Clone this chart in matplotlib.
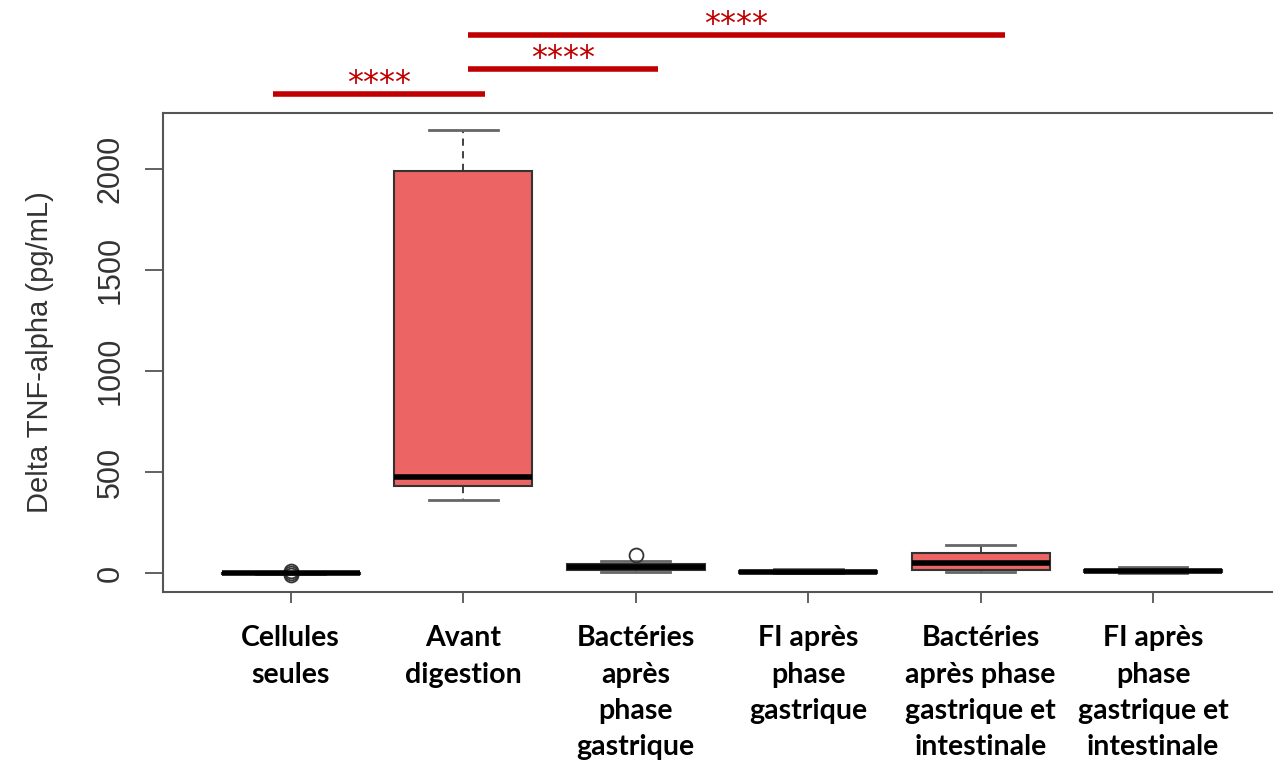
import matplotlib.pyplot as plt

labels = ['Cellules\nseules', 'Avant\ndigestion', 'Bactéries\naprès\nphase\ngastrique',
          'FI après\nphase\ngastrique', 'Bactéries\naprès phase\ngastrique et\nintestinale',
          'FI après\nphase\ngastrique et\nintestinale']
whislo = [-6, 361, 5, 0, 5, 0]
q1 = [-2, 430, 15, 3, 15, 5]
med = [0, 475, 30, 8, 50, 10]
q3 = [2, 1990, 45, 12, 100, 15]
whishi = [6, 2193, 60, 20, 140, 30]
fliers = [[10, -8, 3], [], [92], [], [], []]

# significance bars: (start, end, y)
sig_x0 = [0.9, 2.03, 2.03]
sig_x1 = [2.13, 3.13, 5.14]
sig_y = [2371, 2495, 2663]
sig_txt = ['****', '****', '****']

fig = plt.figure(figsize=(12.73, 7.67), dpi=100)
ax = fig.add_axes([0.128, 0.228, 0.878, 0.625])

stats = []
for i in range(len(labels)):
    stats.append(dict(whislo=whislo[i], q1=q1[i], med=med[i], q3=q3[i],
                      whishi=whishi[i], fliers=fliers[i]))

ax.bxp(stats, positions=range(1, 7), widths=0.8, patch_artist=True,
       boxprops=dict(facecolor='#EC6464', edgecolor='#333333', linewidth=1.5),
       medianprops=dict(color='black', linewidth=4, solid_capstyle='butt'),
       whiskerprops=dict(color='#333333', linewidth=1.3, linestyle=(0, (4, 3))),
       capprops=dict(color='#666666', linewidth=2),
       flierprops=dict(marker='o', markersize=10, markerfacecolor='none',
                       markeredgecolor='#333333', markeredgewidth=1.3),
       capwidths=0.4)

ax.set_xlim(0.26, 6.74)
ax.set_ylim(-94, 2277)
ax.set_yticks([0, 500, 1000, 1500, 2000])
ax.set_yticklabels(['0', '500', '1000', '1500', '2000'], rotation=90, va='center',
                   fontsize=22, color='#333333', family='Liberation Sans')
ax.set_xticks(range(1, 7))
ax.set_xticklabels(labels, fontsize=20.5, fontweight='bold', family='Lato',
                   linespacing=1.48, va='top')
ax.tick_params(axis='x', length=8, width=1.3, color='#555555', pad=16)
ax.tick_params(axis='y', length=13, width=1.3, color='#555555', pad=14)
ax.set_ylabel('Delta TNF-alpha (pg/mL)', fontsize=21, color='#333333',
              family='Liberation Sans', labelpad=30)
for s in ax.spines.values():
    s.set_color('#555555')
    s.set_linewidth(1.5)

for x0, x1, y, t in zip(sig_x0, sig_x1, sig_y, sig_txt):
    ax.plot([x0, x1], [y, y], color='#C00000', linewidth=4, clip_on=False,
            solid_capstyle='butt')
    ax.text((x0 + x1) / 2, y + 50, t, color='#C00000', fontsize=23,
            ha='center', va='center', clip_on=False)

fig.savefig('out.png', dpi=100)
